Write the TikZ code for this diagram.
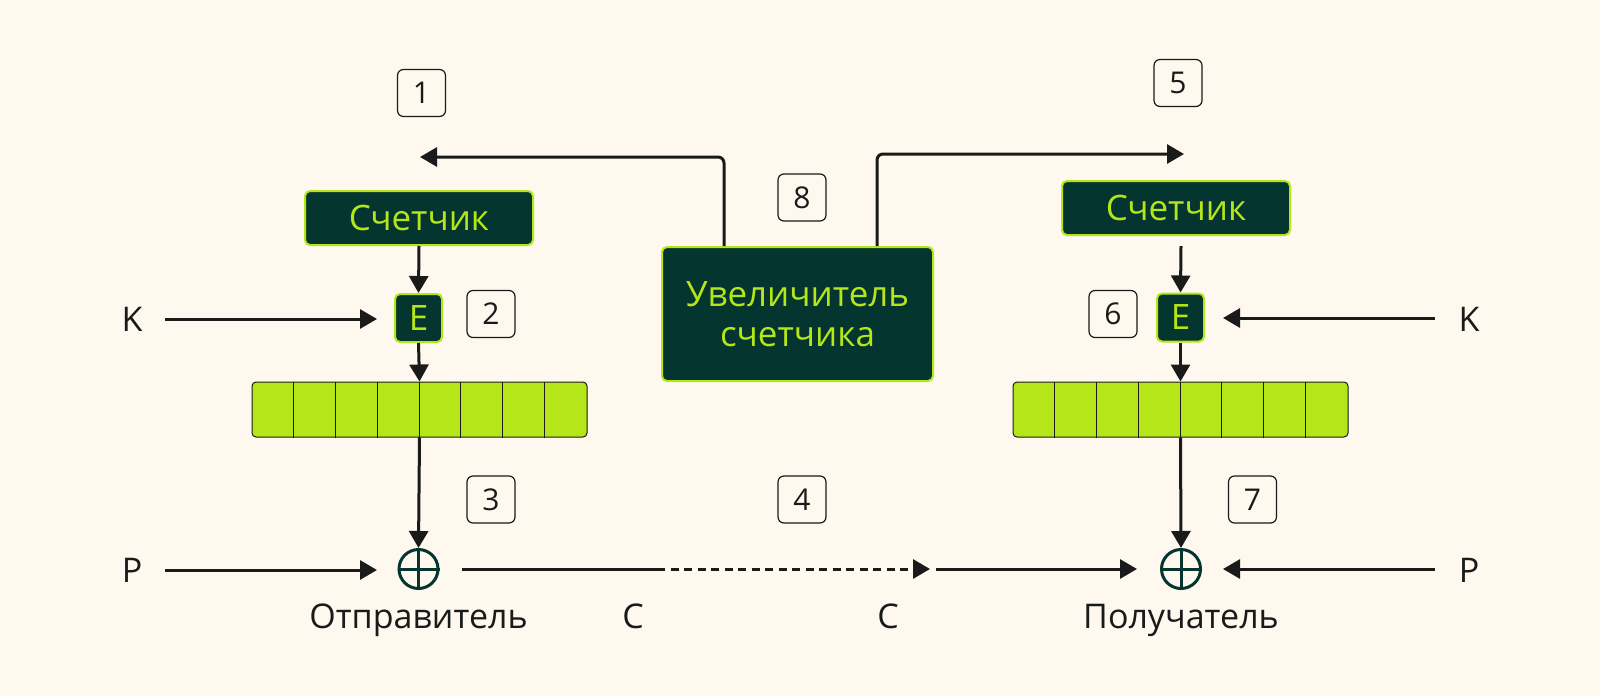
\documentclass[tikz,border=0pt]{standalone}
\usepackage{fontspec}
\setmainfont{Open Sans}
\usetikzlibrary{arrows.meta,calc}
\definecolor{bg}{HTML}{FEF8EE}
\definecolor{dk}{HTML}{04362F}
\definecolor{lime}{HTML}{B4E61A}
\definecolor{ink}{HTML}{1A1A1A}
\tikzset{
  darkbox/.style={draw=lime, line width=2pt, fill=dk, rounded corners=5pt, text=lime, font=\fontsize{35}{40}\selectfont, align=center, inner sep=0pt},
  numbox/.style={draw=ink, line width=1.2pt, rounded corners=6pt, minimum width=48pt, minimum height=47pt, inner sep=0pt, font=\fontsize{30}{34}\selectfont, text=ink},
  lbl/.style={font=\fontsize{34}{40}\selectfont, text=ink, inner sep=0pt},
  reg/.style={draw=ink, line width=1pt, fill=lime, rounded corners=4pt, minimum width=335pt, minimum height=55pt, inner sep=0pt},
  xor/.style={circle, draw=dk, line width=3pt, minimum size=39pt, inner sep=0pt},
  arr/.style={draw=ink, line width=3pt, -{Triangle[width=19pt,length=17pt]}},
  ln/.style={draw=ink, line width=3pt},
}
\begin{document}
\begin{tikzpicture}[x=1pt,y=-1pt]
\fill[bg] (0,0) rectangle (1600,696);
\useasboundingbox (0,0) rectangle (1600,696);

% left side
\node[darkbox, minimum width=228pt, minimum height=54pt] (cL) at (419,218) {Счетчик};
\node[darkbox, minimum width=47pt, minimum height=48pt] (eL) at (418.5,318) {E};
\node[reg] (rL) at (419.5,409.5) {};
\foreach \i in {1,...,7} \draw[ink, line width=1pt] ($(rL.north west)+(\i*41.875,0)$) -- ($(rL.south west)+(\i*41.875,0)$);
\node[xor] (xL) at (418.5,569) {};
\draw[dk, line width=3pt] (xL.north) -- (xL.south) (xL.west) -- (xL.east);
\node[lbl] (KL) at (132,319) {K};
\node[lbl] (PL) at (132,570) {P};
\node[lbl, anchor=north] (sender) at (418.5,604) {Отправитель};
\node[lbl, anchor=north] (C1) at (633,604) {C};

% right side
\node[darkbox, minimum width=228pt, minimum height=54pt] (cR) at (1176,208) {Счетчик};
\node[darkbox, minimum width=47pt, minimum height=48pt] (eR) at (1180.5,317.5) {E};
\node[reg] (rR) at (1180.5,409.5) {};
\foreach \i in {1,...,7} \draw[ink, line width=1pt] ($(rR.north west)+(\i*41.875,0)$) -- ($(rR.south west)+(\i*41.875,0)$);
\node[xor] (xR) at (1181,569) {};
\draw[dk, line width=3pt] (xR.north) -- (xR.south) (xR.west) -- (xR.east);
\node[lbl] (KR) at (1469,319) {K};
\node[lbl] (PR) at (1469,570) {P};
\node[lbl, anchor=north] (recv) at (1181,604) {Получатель};
\node[lbl, anchor=north] (C2) at (888,604) {C};

% incrementer
\node[darkbox, minimum width=271pt, minimum height=134pt] (inc) at (797.5,314) {Увеличитель\\счетчика};

% numbers
\node[numbox] (n1) at (421.5,93) {1};
\node[numbox] (n2) at (491,314) {2};
\node[numbox] (n3) at (491,499.5) {3};
\node[numbox] (n4) at (802,499.5) {4};
\node[numbox] (n5) at (1178,83) {5};
\node[numbox] (n6) at (1113,314) {6};
\node[numbox] (n7) at (1252.5,499.5) {7};
\node[numbox] (n8) at (802,197.5) {8};

% coordinates
\coordinate (kLs) at (165,319);
\coordinate (kLe) at (377,319);
\coordinate (pLs) at (165,570);
\coordinate (pLe) at (377,570);
\coordinate (kRs) at (1435,318);
\coordinate (kRe) at (1223,318);
\coordinate (pRs) at (1435,569);
\coordinate (pRe) at (1223,569);
\coordinate (m0) at (462,569);
\coordinate (d1) at (657,569);
\coordinate (d2) at (930,569);
\coordinate (m1) at (936,569);
\coordinate (m2) at (1137,569);
\coordinate (t1) at (420,157);
\coordinate (t2) at (1184,154);
\coordinate (ceR) at (1181,246);

% connectors left
\draw[arr] (cL.south) -- (eL.north);
\draw[arr] (kLs) -- (kLe);
\draw[arr] (eL.south) -- (rL.north);
\draw[arr] (rL.south) -- (xL.north);
\draw[arr] (pLs) -- (pLe);

% connectors right
\draw[arr] (ceR) -- (eR.north);
\draw[arr] (kRs) -- (kRe);
\draw[arr] (eR.south) -- (rR.north);
\draw[arr] (rR.south) -- (xR.north);
\draw[arr] (pRs) -- (pRe);

% middle line
\draw[ln] (m0) -- (d1);
\draw[draw=ink, line width=3pt, dash pattern=on 8pt off 5.5pt, -{Triangle[width=19pt,length=17pt]}] (d1) -- (d2);
\draw[arr] (m1) -- (m2);

% top arrows
\draw[arr, rounded corners=6pt] ($(inc.north west)+(63,0)$) |- (t1);
\draw[arr, rounded corners=6pt] ($(inc.north west)+(216,0)$) |- (t2);
\end{tikzpicture}
\end{document}
